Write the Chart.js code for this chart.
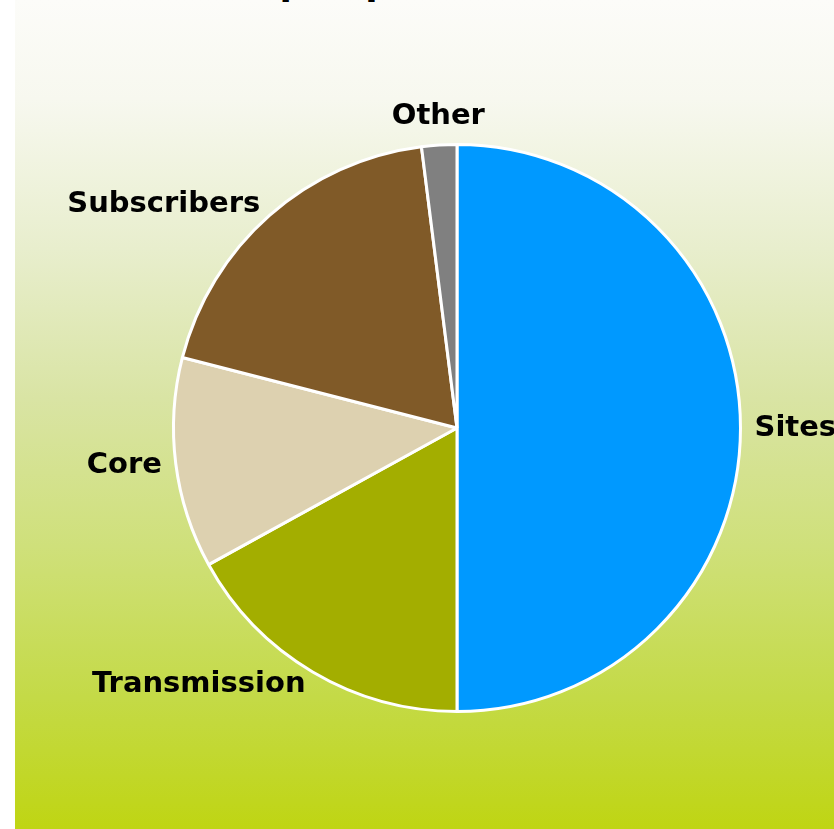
<!DOCTYPE html>
<html lang="en">
<head>
    <meta charset="UTF-8">
    <title>Opex per Domain</title>
    <script src="https://cdn.jsdelivr.net/npm/chart.js"></script>
    <style>
        body {
            margin: 0;
            width: 834px;
            height: 829px;
            overflow: hidden;
            background-color: #ffffff;
            font-family: 'DejaVu Sans', Verdana, sans-serif;
            position: relative;
        }

        #chart-box {
            position: absolute;
            left: 15px;
            top: 0;
            width: 819px;
            height: 829px;
            background: linear-gradient(to bottom, #fcfcf9 0%, #f7f8ef 12%, #e8eecd 30%, #d9e4a4 48%, #cfe07a 66%, #c4da47 84%, #bfd513 100%);
        }

        #chart-title {
            position: absolute;
            left: 0;
            top: -35px;
            width: 100%;
            text-align: center;
            font-size: 36px;
            line-height: 36px;
            font-weight: bold;
            color: #000000;
        }

        #myChart {
            position: absolute;
            left: 0;
            top: 0;
        }
    </style>
</head>
<body>

    <div id="chart-box">
        <div id="chart-title">Opex per Domain</div>
        <canvas id="myChart" width="819" height="829"></canvas>
    </div>

    <script>
        var labels = ['Sites', 'Transmission', 'Core', 'Subscribers', 'Other'];
        var values = [50, 17, 12, 19, 2];
        var colors = ['#0099ff', '#a3ae00', '#ddd1b0', '#805a28', '#808080'];

        // draws the category names just outside each slice
        var outsideLabels = {
            id: 'outsideLabels',
            afterDatasetsDraw: function (chart) {
                var ctx = chart.ctx;
                var meta = chart.getDatasetMeta(0);
                ctx.save();
                ctx.font = 'bold 29px "DejaVu Sans", Verdana, sans-serif';
                ctx.fillStyle = '#000000';
                meta.data.forEach(function (arc, i) {
                    var mid = (arc.startAngle + arc.endAngle) / 2;
                    var dx = Math.cos(mid);
                    var dy = Math.sin(mid);
                    var r = arc.outerRadius + 14;
                    var x = arc.x + dx * r;
                    var y = arc.y + dy * r;
                    if (Math.abs(dx) < 0.2) {
                        ctx.textAlign = 'center';
                        ctx.textBaseline = dy < 0 ? 'bottom' : 'top';
                    } else {
                        ctx.textAlign = dx > 0 ? 'left' : 'right';
                        ctx.textBaseline = 'middle';
                    }
                    ctx.fillText(labels[i], x, y);
                });
                ctx.restore();
            }
        };

        var ctx = document.getElementById('myChart').getContext('2d');
        var myChart = new Chart(ctx, {
            type: 'pie',
            data: {
                labels: labels,
                datasets: [{
                    data: values,
                    backgroundColor: colors,
                    borderColor: '#ffffff',
                    borderWidth: 3
                }]
            },
            options: {
                responsive: false,
                animation: false,
                layout: {
                    padding: { left: 157, right: 92, top: 143, bottom: 116 }
                },
                plugins: {
                    legend: { display: false },
                    tooltip: { enabled: false }
                }
            },
            plugins: [outsideLabels]
        });
    </script>

</body>
</html>
